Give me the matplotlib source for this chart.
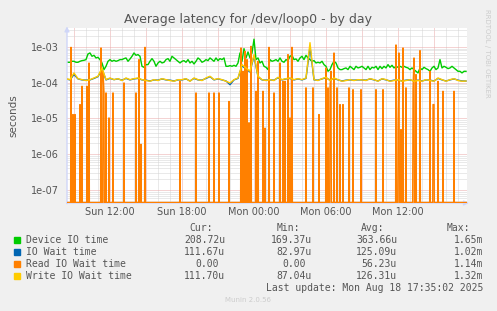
#!/usr/bin/env python3
"""Munin style disk latency graph for /dev/loop0 (day view)."""
import numpy as np
import matplotlib
matplotlib.use("Agg")
import matplotlib.pyplot as plt
from matplotlib.patches import Rectangle
from matplotlib.ticker import FixedLocator, NullFormatter

# time is in hours since Sun 00:00
X_START, X_END = 8.417, 41.75

# Device IO time, microseconds, one sample every 10 min from 08:20
device_start = 8 + 20 / 60
device_us = [
    381, 373, 373, 398, 398, 373, 373, 398, 415, 424, 443, 637, 680, 549, 585, 493, 514,
    443, 357, 233, 288, 398, 443, 398, 424, 398, 415, 443, 443, 472, 493, 398, 462, 549,
    680, 585, 611, 549, 288, 270, 321, 321, 398, 472, 398, 288, 357, 398, 357, 373, 443,
    472, 398, 549, 493, 443, 398, 357, 398, 415, 373, 443, 357, 398, 335, 398, 493, 443,
    373, 398, 443, 415, 493, 443, 398, 493, 415, 472, 443, 493, 288, 288, 301, 288, 307,
    288, 357, 680, 398, 898, 493, 725, 493, 680, 1650, 443, 493, 357, 398, 288, 270,
    233, 443, 398, 415, 443, 398, 493, 398, 373, 443, 415, 549, 585, 443, 462, 398, 493,
    549, 443, 585, 493, 443, 398, 415, 357, 373, 357, 398, 321, 288, 209, 233, 321, 398,
    357, 259, 233, 233, 248, 259, 233, 288, 259, 233, 288, 259, 270, 288, 259, 233,
    288, 233, 270, 259, 288, 233, 288, 248, 288, 259, 321, 270, 307, 259, 288, 270, 288,
    270, 288, 270, 259, 233, 259, 233, 209, 188, 259, 233, 270, 248, 233, 209, 259, 288,
    233, 259, 443, 259, 288, 270, 248, 259, 288, 259, 233, 209, 209, 188, 209, 208.72,
]

# IO wait / write wait, microseconds, one sample every 20 min from 08:20
wait_start = 8 + 20 / 60
iowait_us = [
    128, 120, 170, 128, 120, 118, 120, 132, 148, 240, 120, 132, 122, 128, 118, 132, 120,
    128, 132, 120, 118, 112, 120, 118, 128, 120,
    118, 112, 120, 120, 128, 112, 132, 120, 118, 132, 148, 120, 128, 120, 112, 88, 120,
    132, 300, 240, 200, 560, 148, 120, 118,
    120, 118, 138, 120, 128, 132, 120, 128, 120, 132, 1020, 120, 118, 128, 138, 118, 132,
    120, 112, 118, 120, 118, 120, 120, 118,
    128, 120, 112, 128, 120, 112, 118, 120, 112, 118, 120, 112, 118, 112, 120, 118, 112,
    132, 120, 112, 120, 128, 118, 112, 111.67,
]
write_us = [
    130, 122, 188, 130, 122, 115, 122, 136, 152, 259, 122, 136, 122, 130, 115, 136, 122,
    130, 136, 122, 115, 110, 122, 115, 130, 122,
    115, 110, 122, 122, 130, 110, 136, 122, 115, 136, 152, 122, 130, 122, 110, 99, 122,
    136, 321, 259, 209, 611, 152, 122, 115,
    122, 115, 142, 122, 130, 136, 122, 130, 122, 136, 1320, 122, 115, 130, 142, 115, 136,
    122, 110, 115, 122, 115, 122, 120, 115,
    130, 122, 110, 130, 122, 110, 115, 122, 110, 115, 122, 110, 115, 110, 122, 115, 110,
    136, 122, 110, 122, 130, 115, 110, 111.70,
]

# Read IO wait: zero most of the time, isolated spikes (hour, microseconds)
read_spike_hours = [
    8.75, 8.94, 9.11, 9.5, 9.67, 10.08, 10.28, 11.25, 11.39, 11.53, 11.67, 11.89, 12.22,
    13.19, 14.17, 14.39, 14.58, 14.94,
    17.86, 19.17, 20.22, 20.69, 21.06, 21.94, 22.92, 23.06, 23.22, 23.44, 23.61, 23.75,
    24.17, 24.33, 24.72, 24.92,
    25.22, 25.69, 26.17, 26.39, 26.61, 26.81, 27.0, 27.17, 28.33, 28.89, 29.44, 30.0,
    30.17, 30.33, 30.44, 30.69, 30.89, 31.17, 31.39, 31.89, 32.22, 32.94,
    34.17, 34.72, 35.83, 35.97, 36.11, 36.25, 36.39, 36.67, 37.22, 37.36, 37.5, 37.86,
    38.67, 38.89, 39.03, 39.31, 39.72, 40.69,
]
read_spike_us = [
    979, 12.9, 12.9, 24.5, 80, 80, 357, 940, 209, 52, 52, 10.4, 52,
    99, 52, 443, 1.9, 979,
    110, 52, 52, 52, 52, 30, 940, 209, 757, 443, 7.6, 1044,
    58, 398, 58, 5.4,
    979, 52, 357, 110, 110, 611, 10.4, 979, 72, 72, 12.9, 259,
    72, 72, 209, 680, 72, 24.5, 24.5, 72, 64, 64,
    64, 64, 1140, 5.4, 680, 4.9, 940, 72, 64, 493, 169, 790,
    209, 24.5, 24.5, 110, 58, 58,
]

series_names = ["Device IO time", "IO Wait time", "Read IO Wait time", "Write IO Wait time"]
series_colors = ["#00CC00", "#0066B3", "#FF8000", "#FFCC00"]
cur_vals = ["208.72u", "111.67u", "0.00", "111.70u"]
min_vals = ["169.37u", "82.97u", "0.00", "87.04u"]
avg_vals = ["363.66u", "125.09u", "56.23u", "126.31u"]
max_vals = ["1.65m", "1.02m", "1.14m", "1.32m"]

x_tick_hours = [12, 18, 24, 30, 36]
x_tick_labels = ["Sun 12:00", "Sun 18:00", "Mon 00:00", "Mon 06:00", "Mon 12:00"]

W, H = 497, 311
YMIN, YMAX = 4.34e-8, 3.39e-3
TXT = "#555555"


def fx(px):
    return px / W


def fy(py):
    return 1 - py / H


def main():
    fig = plt.figure(figsize=(W / 100, H / 100), dpi=100, facecolor="#F0F0F0")
    ax = fig.add_axes([fx(67), fy(203), fx(467) - fx(67), fy(28) - fy(203)])
    ax.set_facecolor("white")
    ax.set_yscale("log")
    ax.set_xlim(X_START, X_END)
    ax.set_ylim(YMIN, YMAX)

    # grid: hour minor, 3h major; decades major, 2..9 minor
    grid_kw = dict(lw=0.72, ls=(0, (1, 1)), zorder=0)
    for h in np.arange(9, 42, 1):
        major = int(h) % 3 == 0
        ax.axvline(h, color="#EBA8A8" if major else "#D4D4D4", **grid_kw)
    for e in range(-8, -1):
        for m in range(1, 10):
            v = m * 10.0 ** e
            if YMIN < v < YMAX:
                ax.axhline(v, color="#EBA8A8" if m == 1 else "#D4D4D4", **grid_kw)

    t_dev = device_start + np.arange(len(device_us)) / 6
    t_wait = wait_start + np.arange(len(write_us)) / 3
    t_read = X_START + np.arange(int(round((X_END - X_START) * 12)) + 1) / 12
    read_us = np.zeros(len(t_read))
    for h, v in zip(read_spike_hours, read_spike_us):
        read_us[int(round((h - X_START) * 12))] = v
    # zero on a log axis: steep drop off the bottom, flat stretches along the floor
    read_steep = np.where(read_us > 0, read_us * 1e-6, 1e-14)
    read_floor = np.where(read_us > 0, np.nan, YMIN * 1.04)

    ax.plot(t_dev, np.array(device_us) * 1e-6, color=series_colors[0], lw=1.0, zorder=2)
    ax.plot(t_wait, np.array(iowait_us) * 1e-6, color=series_colors[1], lw=1.0, zorder=3)
    ax.plot(t_read, read_steep, color=series_colors[2], lw=1.0, zorder=4)
    ax.plot(t_read, read_floor, color=series_colors[2], lw=1.0, zorder=4)
    ax.plot(t_wait, np.array(write_us) * 1e-6, color=series_colors[3], lw=1.0, zorder=5)

    for s in ax.spines.values():
        s.set_visible(False)
    ax.yaxis.set_major_locator(FixedLocator([1e-7, 1e-6, 1e-5, 1e-4, 1e-3]))
    ax.yaxis.set_minor_locator(FixedLocator([]))
    ax.yaxis.set_minor_formatter(NullFormatter())
    ax.set_yticklabels(["1e-07", "1e-06", "1e-05", "1e-04", "1e-03"])
    ax.set_xticks(x_tick_hours)
    ax.set_xticklabels(x_tick_labels)
    ax.tick_params(length=0, labelsize=7, colors=TXT)
    ax.tick_params(axis="y", pad=6)
    ax.tick_params(axis="x", pad=3)
    ax.set_ylabel("seconds", fontsize=7.5, color=TXT, labelpad=9)

    # axis lines with arrows
    ax.annotate("", xy=(1.012, 0), xytext=(-0.008, 0), xycoords="axes fraction",
                arrowprops=dict(arrowstyle="-|>", color="#CFD6F8", lw=1, mutation_scale=7),
                annotation_clip=False)
    ax.annotate("", xy=(0, 1.025), xytext=(0, -0.02), xycoords="axes fraction",
                arrowprops=dict(arrowstyle="-|>", color="#CFD6F8", lw=1, mutation_scale=7),
                annotation_clip=False)

    fig.text(fx(248), fy(20), "Average latency for /dev/loop0 - by day",
             ha="center", va="center", fontsize=9, color=TXT)
    fig.text(fx(487), fy(53), "RRDTOOL / TOBI OETIKER", rotation=270,
             ha="center", va="center", fontsize=5, color="#CCCCCC")

    # legend table
    mono = dict(family="DejaVu Sans Mono", fontsize=7, color=TXT, va="center")
    col_right = [225, 312, 397, 483]
    for txt, xr in zip(["Cur:", "Min:", "Avg:", "Max:"], [213, 300, 384, 470]):
        fig.text(fx(xr), fy(228), txt, ha="right", **mono)
    for i, name in enumerate(series_names):
        y = 240 + 12 * i
        fig.patches.append(Rectangle((fx(14), fy(y + 3)), fx(6), fy(y - 3) - fy(y + 3),
                                     transform=fig.transFigure, color=series_colors[i]))
        fig.text(fx(26), fy(y), name, ha="left", **mono)
        for vals, xr in zip([cur_vals, min_vals, avg_vals, max_vals], col_right):
            v = vals[i]
            shift = 6 if v[-1].isdigit() else 0
            fig.text(fx(xr - shift), fy(y), v, ha="right", **mono)
    fig.text(fx(483), fy(288), "Last update: Mon Aug 18 17:35:02 2025", ha="right", **mono)
    fig.text(fx(248), fy(300), "Munin 2.0.56", ha="center", va="center",
             fontsize=5, color="#CCCCCC")

    fig.savefig("out.png", dpi=100, facecolor=fig.get_facecolor())


if __name__ == "__main__":
    main()
